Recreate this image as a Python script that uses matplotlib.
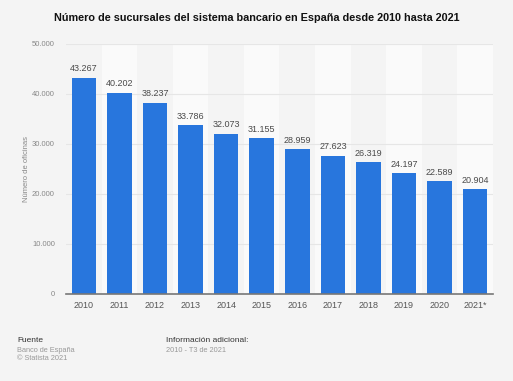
import matplotlib.pyplot as plt
import numpy as np

years = ["2010", "2011", "2012", "2013", "2014", "2015", "2016",
         "2017", "2018", "2019", "2020", "2021*"]
sucursales = [43267, 40202, 38237, 33786, 32073, 31155, 28959,
              27623, 26319, 24197, 22589, 20904]
yticks = [0, 10000, 20000, 30000, 40000, 50000]

plt.rcParams['font.family'] = ['Liberation Sans', 'DejaVu Sans']

W, H = 513, 381
fig = plt.figure(figsize=(W / 100, H / 100), dpi=100, facecolor='#f4f4f4')
ax = fig.add_axes([66 / W, 1 - 294 / H, (493 - 66) / W, (294 - 44) / H])
ax.set_facecolor('#f4f4f4')

x = np.arange(len(years))
# alternating column bands
for i in x:
    if i % 2 == 1:
        ax.axvspan(i - 0.5, i + 0.5, color='#fafafa', zorder=0, lw=0)

ax.bar(x, sucursales, width=0.69, color='#2876dd', zorder=3)
for xi, v in zip(x, sucursales):
    ax.text(xi, v + 900, f"{v:,}".replace(",", "."), ha='center', va='bottom',
            fontsize=6.5, color='#4a4a4a', zorder=4)

ax.set_xlim(-0.5, len(years) - 0.5)
ax.set_ylim(0, 50000)
ax.set_yticks(yticks)
ax.set_yticklabels([f"{t:,}".replace(",", ".") for t in yticks])
ax.set_xticks(x)
ax.set_xticklabels(years)
ax.grid(axis='y', color='#e6e6e6', lw=0.8, zorder=1)
ax.tick_params(axis='y', length=0, labelsize=5.5, labelcolor='#888888', pad=8)
ax.tick_params(axis='x', length=0, labelsize=6.5, labelcolor='#555555', pad=5)
for s in ['top', 'right', 'left']:
    ax.spines[s].set_visible(False)
ax.spines['bottom'].set_color('#777777')
ax.spines['bottom'].set_linewidth(1.2)
ax.spines['bottom'].set_zorder(5)

ax.set_ylabel("Número de oficinas", fontsize=5.5, color='#888888')
ax.yaxis.set_label_coords((30 - 66) / 427, 0.5)

fig.text(0.5, 1 - 18 / H,
         "Número de sucursales del sistema bancario en España desde 2010 hasta 2021",
         ha='center', va='center', fontsize=7.8, fontweight='bold', color='#111111')

fig.text(17 / W, 1 - 341 / H, "Fuente", fontsize=6, color='#333333', va='center')
fig.text(17 / W, 1 - 350 / H, "Banco de España", fontsize=5.3, color='#999999', va='center')
fig.text(17 / W, 1 - 358 / H, "© Statista 2021", fontsize=5.3, color='#999999', va='center')
fig.text(166 / W, 1 - 341 / H, "Información adicional:", fontsize=6, color='#333333', va='center')
fig.text(166 / W, 1 - 350 / H, "2010 - T3 de 2021", fontsize=5.3, color='#999999', va='center')

fig.savefig("out.png", dpi=100, facecolor=fig.get_facecolor())
